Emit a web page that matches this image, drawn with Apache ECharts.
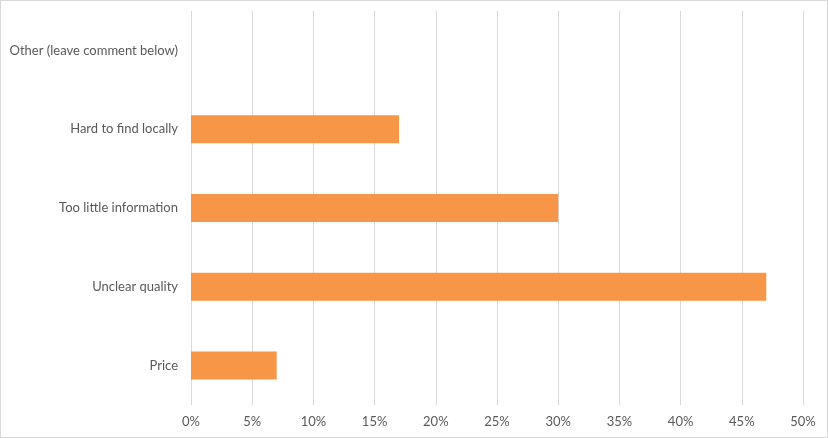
<!DOCTYPE html>
<html>
<head>
<meta charset="utf-8">
<script src="https://cdn.jsdelivr.net/npm/echarts@6/dist/echarts.min.js"></script>
<style>
html,body{margin:0;padding:0;background:#fff;}
#c{width:828px;height:438px;box-sizing:border-box;border:1px solid #d9d9d9;}
</style>
</head>
<body>
<div id="c"></div>
<script>
const categories = ["Price", "Unclear quality", "Too little information", "Hard to find locally", "Other (leave comment below)"];
const values = [7, 47, 30, 17, 0];
const tickValues = [0, 5, 10, 15, 20, 25, 30, 35, 40, 45, 50];

const chart = echarts.init(document.getElementById('c'), null, {renderer: 'canvas'});
chart.setOption({
  animation: false,
  grid: {left: 190, right: 24, top: 10, bottom: 32, containLabel: false},
  xAxis: {
    type: 'value', min: 0, max: 50, interval: 5,
    axisLine: {show: false}, axisTick: {show: false},
    splitLine: {show: true, lineStyle: {color: '#d9d9d9', width: 1}},
    axisLabel: {formatter: v => v + '%', color: '#595959', fontFamily: 'Lato', fontSize: 13, margin: 10}
  },
  yAxis: {
    type: 'category', data: categories,
    axisLine: {show: false}, axisTick: {show: false},
    axisLabel: {color: '#595959', fontFamily: 'Lato', fontSize: 13, margin: 13}
  },
  series: [{
    type: 'bar', data: values, barWidth: 28,
    itemStyle: {color: '#F79646'}
  }]
});
</script>
</body>
</html>
